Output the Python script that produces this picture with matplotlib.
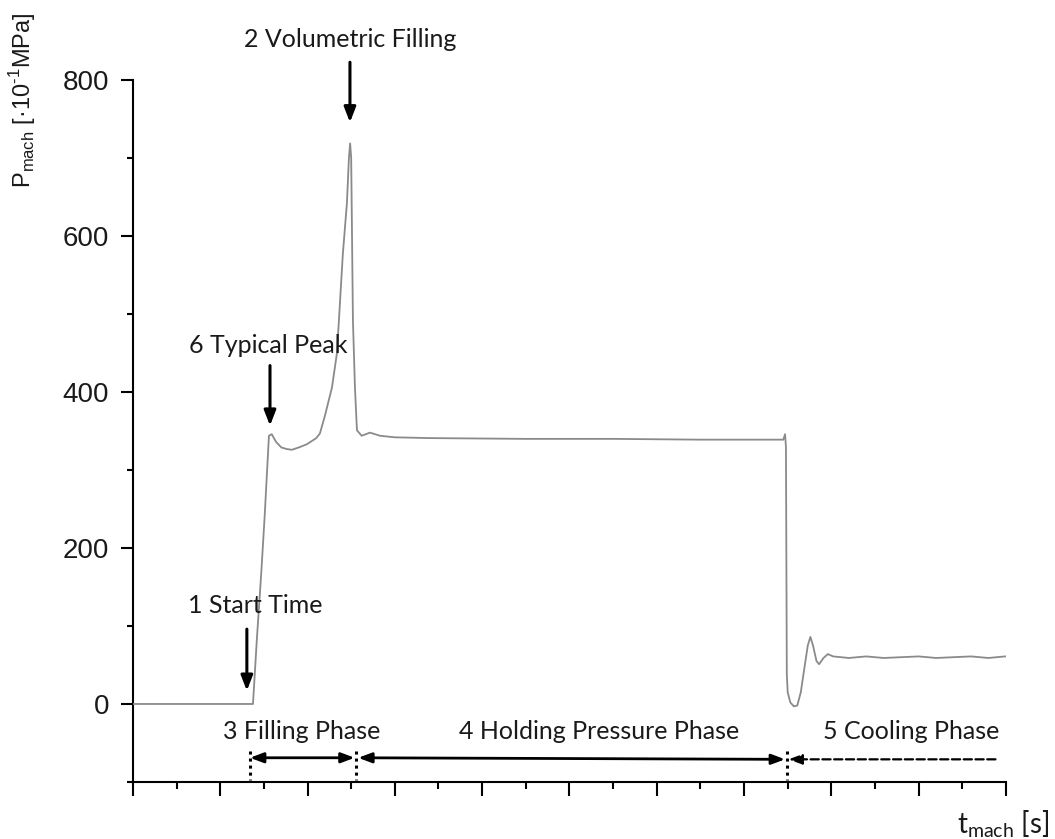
"""
Machine pressure trace of one injection moulding cycle with phase annotations.
"""

import matplotlib
matplotlib.use('Agg')
import matplotlib.pyplot as plt
from matplotlib.ticker import MultipleLocator, NullFormatter

plt.rcParams['mathtext.fontset'] = 'custom'
plt.rcParams['mathtext.rm'] = 'Liberation Sans'
plt.rcParams['mathtext.sf'] = 'Lato'

# ============================================================
# Data (time in arbitrary units, pressure in 10^-1 MPa)
# ============================================================
t_mach = [0.0, 1.375, 1.42, 1.47, 1.51, 1.558, 1.59, 1.64, 1.70, 1.76,
          1.82, 1.90, 1.99, 2.06, 2.10, 2.142, 2.20, 2.28, 2.337, 2.371,
          2.405, 2.451, 2.474, 2.488, 2.50, 2.52, 2.543, 2.566, 2.62,
          2.715, 2.83, 3.00, 3.40, 4.50, 5.50, 6.50, 7.45, 7.47, 7.48,
          7.49, 7.50, 7.53, 7.57, 7.61, 7.65, 7.69, 7.73, 7.76, 7.79, 7.83,
          7.86, 7.91, 7.96, 8.02, 8.20, 8.40, 8.60, 8.80, 9.00, 9.20, 9.40,
          9.60, 9.80, 9.99]
p_mach = [0, 0, 84, 168, 243, 344, 346, 336, 329, 327,
          326, 329, 333, 338, 341, 347, 370, 406, 450, 514,
          578, 642, 700, 719, 700, 492, 406, 351, 344,
          348, 344, 342, 341, 340, 340, 339, 339, 346, 330,
          38, 15, 2, -3, -2, 15, 45, 75, 86, 75, 55,
          51, 59, 64, 61, 59, 61, 59, 60, 61, 59, 60,
          61, 59, 61]

# Phase boundaries on the time axis
t_start = 1.34
t_switch = 2.54
t_cooling = 7.49
t_end = 9.98

fig = plt.figure(figsize=(10.55, 8.39), dpi=100)
ax = fig.add_axes([0.126, 0.068, 0.8275, 0.8364])

ax.plot(t_mach, p_mach, color='#8a8a8a', linewidth=1.3, zorder=3)

ax.set_xlim(0, 10)
ax.set_ylim(-100, 800)

# ============================================================
# Axis styling
# ============================================================
for side in ['top', 'right']:
    ax.spines[side].set_visible(False)
for side in ['left', 'bottom']:
    ax.spines[side].set_linewidth(1.5)

ax.yaxis.set_major_locator(MultipleLocator(200))
ax.yaxis.set_minor_locator(MultipleLocator(100))
ax.xaxis.set_major_locator(MultipleLocator(1))
ax.xaxis.set_minor_locator(MultipleLocator(0.5))
ax.xaxis.set_major_formatter(NullFormatter())

ax.tick_params(axis='y', which='major', direction='out', length=9, width=1.5,
               labelsize=20, pad=8)
ax.tick_params(axis='y', which='minor', direction='out', length=4, width=1.5)
ax.tick_params(axis='x', which='major', direction='out', length=10, width=1.5)
ax.tick_params(axis='x', which='minor', direction='out', length=5, width=1.5)
for lbl in ax.get_yticklabels():
    lbl.set_fontfamily('Liberation Sans')
    lbl.set_color('#1a1a1a')

fig.text(0.021, 0.88, 'P$_{\\mathrm{mach}}$ [·10$^{\\mathrm{\u20101}}$MPa]',
         rotation=90, ha='center', va='center', fontsize=17,
         family='Liberation Sans', color='#1a1a1a')
fig.text(0.995, 0.018, 't$_{\\mathsf{mach}}$ [s]', ha='right', va='center',
         fontsize=20, family='Lato', color='#1a1a1a')

# ============================================================
# Event arrows and phase labels
# ============================================================
font = dict(family='Lato', fontsize=18, color='#1a1a1a')
arrow = dict(arrowstyle='-|>,head_width=0.35,head_length=0.9', color='black',
             linewidth=2.2, shrinkA=0, shrinkB=0)

ax.annotate('', xy=(2.486, 746), xytext=(2.486, 823), arrowprops=arrow,
            annotation_clip=False)
ax.text(2.486, 852, '2 Volumetric Filling', ha='center', va='center',
        clip_on=False, **font)

ax.annotate('', xy=(1.57, 357), xytext=(1.57, 434), arrowprops=arrow)
ax.text(1.55, 460, '6 Typical Peak', ha='center', va='center', **font)

ax.annotate('', xy=(1.305, 17), xytext=(1.305, 96), arrowprops=arrow)
ax.text(1.40, 126, '1 Start Time', ha='center', va='center', **font)

ax.text(1.93, -35, '3 Filling Phase', ha='center', va='center', **font)
ax.text(5.34, -35, '4 Holding Pressure Phase', ha='center', va='center', **font)
ax.text(8.92, -35, '5 Cooling Phase', ha='center', va='center', **font)

span = dict(arrowstyle='<|-|>,head_width=0.3,head_length=0.8', color='black',
            linewidth=2, shrinkA=0, shrinkB=0)
ax.annotate('', xy=(t_start, -69), xytext=(t_switch, -69), arrowprops=span)
ax.annotate('', xy=(t_switch + 0.04, -69), xytext=(t_cooling - 0.02, -71),
            arrowprops=span)
ax.annotate('', xy=(t_cooling + 0.02, -71), xytext=(t_end - 0.1, -71),
            arrowprops=dict(arrowstyle='-|>,head_width=0.3,head_length=0.8',
                            color='black', linewidth=1.6, linestyle='--',
                            shrinkA=0, shrinkB=0))

for tx in [t_start, t_switch + 0.02, t_cooling]:
    ax.plot([tx, tx], [-60, -98], color='black', linewidth=2.2,
            linestyle=(0, (1, 1.3)), zorder=4)

plt.savefig('out.png', dpi=100)
plt.close('all')
